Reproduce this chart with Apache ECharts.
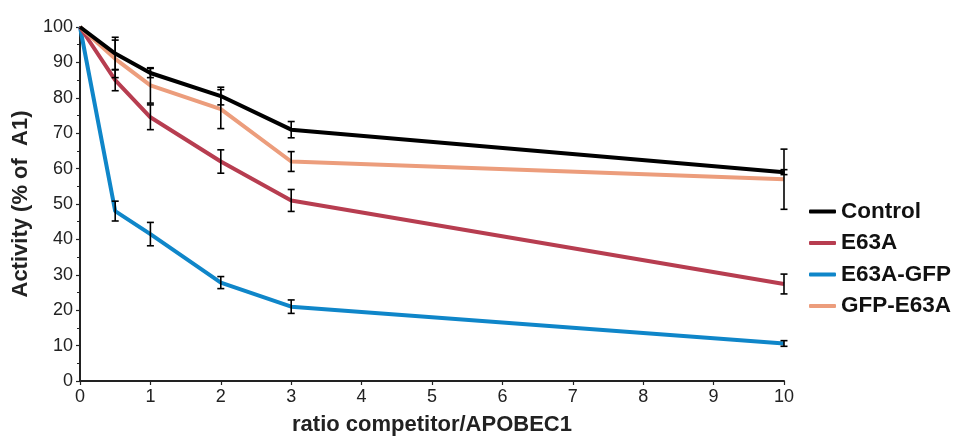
<!DOCTYPE html>
<html><head><meta charset="utf-8">
<script src="https://cdn.jsdelivr.net/npm/echarts@6/dist/echarts.min.js"></script>
<style>html,body{margin:0;padding:0;background:#fff}#c{width:957px;height:443px}</style>
</head><body><div id="c"></div>
<script>
const xValues = [0, 0.5, 1, 2, 3, 10];
const seriesNames = ['Control', 'E63A', 'E63A-GFP', 'GFP-E63A'];
const control = [100, 92.5, 87, 80.5, 71, 59];
const controlErr = [0, 4.6, 1.3, 2.5, 2.3, 0.7];
const e63a = [100, 85, 74.5, 62, 51, 27.4];
const e63aErr = [0, 3, 3.5, 3.3, 3.1, 2.8];
const e63aGfp = [100, 48, 41.5, 27.8, 21, 10.6];
const e63aGfpErr = [0, 2.8, 3.3, 1.7, 1.9, 0.8];
const gfpE63a = [100, 91, 83.5, 76.8, 62, 57];
const gfpE63aErr = [0, 5.3, 5, 5.5, 2.8, 8.5];
const xTicks = [0,1,2,3,4,5,6,7,8,9,10];
const yTicks = [0,10,20,30,40,50,60,70,80,90,100];

const colors = {'Control':'#000000','E63A':'#b73d50','E63A-GFP':'#0f86c9','GFP-E63A':'#ec9d7c'};
const values = {'Control':control,'E63A':e63a,'E63A-GFP':e63aGfp,'GFP-E63A':gfpE63a};
const errs = {'Control':controlErr,'E63A':e63aErr,'E63A-GFP':e63aGfpErr,'GFP-E63A':gfpE63aErr};

const drawOrder = ['E63A-GFP','E63A','GFP-E63A','Control'];
const series = [];
drawOrder.forEach(n => {
  series.push({
    name: n, type: 'line', data: xValues.map((x,i)=>[x, values[n][i]]),
    symbol: 'none', lineStyle: {color: colors[n], width: 4}, itemStyle:{color: colors[n]},
    z: 2, animation: false
  });
});
drawOrder.forEach(n => {
  series.push({
    name: n + ' err', type: 'custom', z: 5, animation: false,
    data: xValues.map((x,i)=>[x, values[n][i]-errs[n][i], values[n][i]+errs[n][i]]).filter((d,i)=>errs[n][i]>0),
    renderItem: function(params, api){
      const x = api.value(0);
      const lo = api.coord([x, api.value(1)]);
      const hi = api.coord([x, api.value(2)]);
      const w = 3.5;
      const st = {stroke:'#000', lineWidth:1.6};
      return {type:'group', children:[
        {type:'line', shape:{x1:lo[0],y1:lo[1],x2:hi[0],y2:hi[1]}, style:st},
        {type:'line', shape:{x1:lo[0]-w,y1:lo[1],x2:lo[0]+w,y2:lo[1]}, style:st},
        {type:'line', shape:{x1:hi[0]-w,y1:hi[1],x2:hi[0]+w,y2:hi[1]}, style:st}
      ]};
    }
  });
});

const chart = echarts.init(document.getElementById('c'), null, {renderer:'canvas'});
chart.setOption({
  animation: false,
  textStyle: {fontFamily: 'Liberation Sans, Arial, sans-serif'},
  grid: {left: 80, right: 173, top: 27, bottom: 62, containLabel: false},
  legend: {
    data: seriesNames.map(n=>({name:n, icon:'roundRect'})),
    orient: 'vertical', left: 804, top: 195,
    itemWidth: 27, itemHeight: 4, itemGap: 8.5,
    textStyle: {fontSize: 22.5, fontWeight: 'bold', color:'#111', lineHeight: 22},
    selectedMode: false
  },
  xAxis: {
    type: 'value', min: 0, max: 10, interval: 1,
    name: 'ratio competitor/APOBEC1', nameLocation: 'middle', nameGap: 33,
    nameTextStyle: {fontSize: 22, fontWeight: 'bold', color:'#222'},
    axisLine: {show: true, lineStyle: {color: '#222', width: 2}},
    axisTick: {show: true, length: 4, lineStyle:{color:'#222', width:1.2}},
    axisLabel: {fontSize: 18, color:'#222', margin: 7,
      formatter: v => xTicks.includes(v) ? String(v) : ''},
    splitLine: {show: false}
  },
  yAxis: {
    type: 'value', min: 0, max: 100, interval: 10,
    name: 'Activity (% of  A1)', nameLocation: 'middle', nameGap: 47,
    nameTextStyle: {fontSize: 22, fontWeight: 'bold', color:'#222'},
    axisLine: {show: true, lineStyle: {color: '#222', width: 2}},
    axisTick: {show: true, length: 4, lineStyle:{color:'#222', width:1.2}},
    minorTick: {show: true, splitNumber: 2, length: 3, lineStyle:{color:'#222', width:1}},
    axisLabel: {fontSize: 18, color:'#222', margin: 7, formatter: v => yTicks.includes(v) ? String(v) : ''},
    splitLine: {show: false}
  },
  series: series
});
</script></body></html>
